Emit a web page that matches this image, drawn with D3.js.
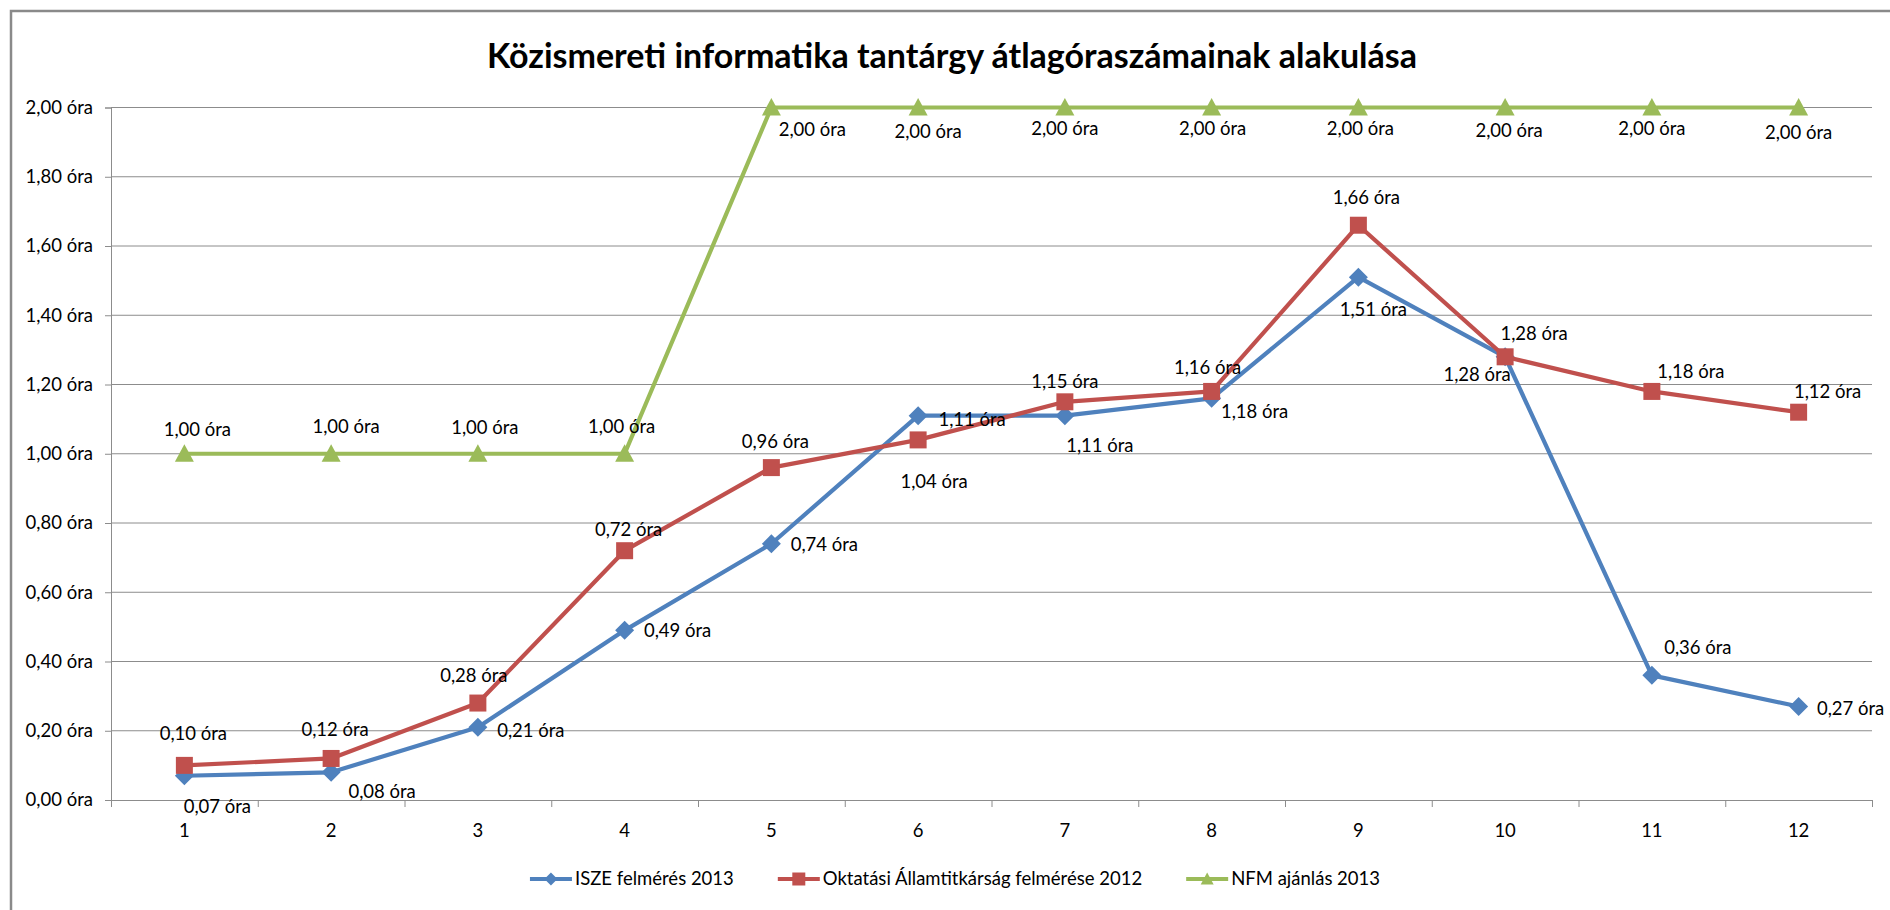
<!DOCTYPE html>
<html lang="hu">
<head>
<meta charset="UTF-8">
<title>Közismereti informatika tantárgy átlagóraszámainak alakulása</title>
<script src="https://d3js.org/d3.v7.min.js"></script>
<style>
  body { margin: 0; background: #fff; }
  svg { display: block; }
  text { font-family: Lato, 'Open Sans', sans-serif; fill: #000; }
</style>
</head>
<body>
<svg id="chart" width="1890" height="910"></svg>
<script>
// data
var categories = ["1","2","3","4","5","6","7","8","9","10","11","12"];
var yTicks = [0, 0.2, 0.4, 0.6, 0.8, 1.0, 1.2, 1.4, 1.6, 1.8, 2.0];
var seriesNames = ["ISZE felmérés 2013", "Oktatási Államtitkárság felmérése 2012", "NFM ajánlás 2013"];

var isze     = [0.07, 0.08, 0.21, 0.49, 0.74, 1.11, 1.11, 1.16, 1.51, 1.28, 0.36, 0.27];
var oktatasi = [0.10, 0.12, 0.28, 0.72, 0.96, 1.04, 1.15, 1.18, 1.66, 1.28, 1.18, 1.12];
var nfm      = [1.00, 1.00, 1.00, 1.00, 2.00, 2.00, 2.00, 2.00, 2.00, 2.00, 2.00, 2.00];

// numbers printed in the data labels (point 8 labels are swapped in the original)
var iszeLabels     = [0.07, 0.08, 0.21, 0.49, 0.74, 1.11, 1.11, 1.18, 1.51, 1.28, 0.36, 0.27];
var oktatasiLabels = [0.10, 0.12, 0.28, 0.72, 0.96, 1.04, 1.15, 1.16, 1.66, 1.28, 1.18, 1.12];
var nfmLabels      = [1.00, 1.00, 1.00, 1.00, 2.00, 2.00, 2.00, 2.00, 2.00, 2.00, 2.00, 2.00];

// label placement: offset of label centre from the marker (px)
var iszeOffsets = [[33,31],[51,19],[53,3],[53,0],[53,1],[54,4],[35,30],[43,13],[15,32],[-28,18],[46,-28],[52,2]];
var oktOffsets  = [[9,-32],[4,-29],[-4,-28],[4,-21],[4,-26],[16,42],[0,-20],[-4,-24],[8,-28],[29,-23],[39,-20],[29,-21]];
var nfmOffsets  = [[13,-24],[15,-27],[7,-26],[-3,-27],[41,22],[10,24],[0,21],[1,21],[2,21],[4,23],[0,21],[0,25]];

var colors = ["#4F81BD", "#C0504D", "#9BBB59"];

var svg = d3.select("#chart");
var plotLeft = 111, plotRight = 1872, plotTop = 107.5, plotBottom = 800;
var labelSize = "18.5px";

var fmt = function(v) { return d3.format(".2f")(v).replace(".", ",") + " óra"; };

var x = d3.scaleBand().domain(categories).range([plotLeft, plotRight]).padding(0);
var xb = d3.scaleLinear().domain([0, categories.length]).range([plotLeft, plotRight]);
var y = d3.scaleLinear().domain([0, 2]).range([plotBottom, plotTop]);
var cx = function(i) { return x(categories[i]) + x.bandwidth() / 2; };

// outer chart border
svg.append("rect").attr("x", 11).attr("y", 11).attr("width", 1960).attr("height", 1000)
  .attr("fill", "none").attr("stroke", "#8a8a8a").attr("stroke-width", 2.5);

// title
svg.append("text").attr("x", 952).attr("y", 68).attr("text-anchor", "middle")
  .style("font-size", "34px").style("font-weight", "bold")
  .text("Közismereti informatika tantárgy átlagóraszámainak alakulása");

// gridlines
svg.append("g").selectAll("line").data(yTicks.slice(1)).join("line")
  .attr("x1", plotLeft).attr("x2", plotRight)
  .attr("y1", d => y(d)).attr("y2", d => y(d))
  .attr("stroke", "#8c8c8c").attr("stroke-width", 1);

// y axis
var yAxis = svg.append("g").attr("transform", "translate(" + plotLeft + ",0)")
  .call(d3.axisLeft(y).tickValues(yTicks).tickSize(6).tickPadding(12).tickFormat(fmt));
yAxis.select(".domain").attr("stroke", "#8c8c8c");
yAxis.selectAll(".tick line").attr("stroke", "#8c8c8c");
yAxis.selectAll(".tick text").style("font-size", labelSize).attr("fill", "#000");

// x axis: boundary ticks + category labels
var xAxis = svg.append("g").attr("transform", "translate(0," + plotBottom + ")")
  .call(d3.axisBottom(xb).tickValues(d3.range(0, categories.length + 1)).tickSize(7).tickFormat(""));
xAxis.select(".domain").attr("stroke", "#8c8c8c");
xAxis.selectAll(".tick line").attr("stroke", "#8c8c8c");
svg.append("g").selectAll("text").data(categories).join("text")
  .attr("x", d => x(d) + x.bandwidth() / 2).attr("y", 837)
  .attr("text-anchor", "middle").style("font-size", labelSize).text(d => d);

// markers
function diamond(s) { return "M0," + (-s) + "L" + s + ",0L0," + s + "L" + (-s) + ",0Z"; }
function square(s) { return "M" + (-s) + "," + (-s) + "h" + (2 * s) + "v" + (2 * s) + "h" + (-2 * s) + "Z"; }
function triangle(s) { return "M0," + (-s) + "L" + s + "," + (s * 0.85) + "L" + (-s) + "," + (s * 0.85) + "Z"; }
var shapes = [diamond, square, triangle];
var markerSize = [9.5, 8.5, 9.5];

var allSeries = [isze, oktatasi, nfm];
var line = d3.line().x((d, i) => cx(i)).y(d => y(d));

allSeries.forEach(function(vals, s) {
  var g = svg.append("g");
  g.append("path").datum(vals).attr("d", line)
    .attr("fill", "none").attr("stroke", colors[s]).attr("stroke-width", 4.2)
    .attr("stroke-linejoin", "round");
  g.selectAll("path.m").data(vals).join("path").attr("class", "m")
    .attr("transform", (d, i) => "translate(" + cx(i) + "," + y(d) + ")")
    .attr("d", shapes[s](markerSize[s])).attr("fill", colors[s]);
});

// data labels
var allLabels = [iszeLabels, oktatasiLabels, nfmLabels];
var allOffsets = [iszeOffsets, oktOffsets, nfmOffsets];
allSeries.forEach(function(vals, s) {
  svg.append("g").selectAll("text").data(vals).join("text")
    .attr("x", (d, i) => cx(i) + allOffsets[s][i][0])
    .attr("y", (d, i) => y(d) + allOffsets[s][i][1])
    .attr("dy", "0.35em").attr("text-anchor", "middle")
    .style("font-size", labelSize)
    .text((d, i) => fmt(allLabels[s][i]));
});

// legend
var legend = svg.append("g");
var cursor = 0;
seriesNames.forEach(function(name, s) {
  var it = legend.append("g");
  it.append("line").attr("x1", 0).attr("x2", 42).attr("y1", 0).attr("y2", 0)
    .attr("stroke", colors[s]).attr("stroke-width", 4);
  it.append("path").attr("transform", "translate(21,0)").attr("d", shapes[s](6.5)).attr("fill", colors[s]);
  var t = it.append("text").attr("x", 45).attr("dy", "0.35em").style("font-size", labelSize).text(name);
  var w = 45 + t.node().getComputedTextLength();
  it.attr("transform", "translate(" + cursor + ",0)");
  cursor += w + 44;
});
var total = cursor - 44;
legend.attr("transform", "translate(" + (955 - total / 2) + ",879)");
</script>
</body>
</html>
